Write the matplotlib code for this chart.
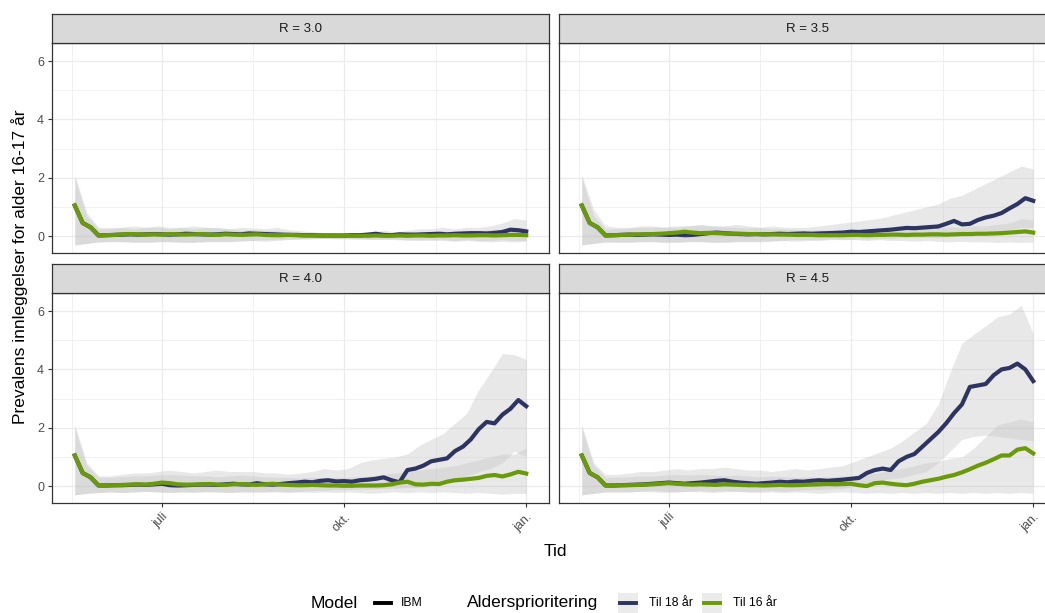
import matplotlib
matplotlib.use('Agg')
import matplotlib.pyplot as plt
import pandas as pd
from matplotlib.lines import Line2D
from matplotlib.patches import Rectangle

plt.rcParams['font.family'] = ['Liberation Sans', 'DejaVu Sans']

# tidsakser: linjer hver 4. dag, usikkerhetsbånd hver 6. dag
dates = pd.date_range('2021-05-18', '2022-01-01', freq='4D')
band_dates = pd.date_range('2021-05-18', '2022-01-01', freq='6D')

panel_titles = ['R = 3.0', 'R = 3.5', 'R = 4.0', 'R = 4.5']
series_labels = ['Til 18 år', 'Til 16 år']
x_tick_dates = ['2021-07-01 00:00', '2021-10-01 00:00', '2022-01-01 00:00']
x_tick_labels = ['juli', 'okt.', 'jan.']
x_minor_dates = ['2021-05-16 12:00', '2021-08-16 00:00', '2021-11-16 12:00']
y_ticks = [0, 2, 4, 6]

# --- R = 3.0 ---
til18_r30 = [1.05, 0.45, 0.30, 0.02, 0.03, 0.04, 0.05, 0.06, 0.05, 0.06,
             0.07, 0.06, 0.05, 0.06, 0.08, 0.07, 0.06, 0.05, 0.06, 0.08,
             0.07, 0.06, 0.09, 0.08, 0.07, 0.06, 0.05, 0.04, 0.04, 0.03,
             0.03, 0.02, 0.02, 0.02, 0.02, 0.03, 0.03, 0.05, 0.08, 0.04,
             0.03, 0.06, 0.05, 0.05, 0.06, 0.07, 0.08, 0.06, 0.08, 0.09,
             0.10, 0.10, 0.09, 0.11, 0.14, 0.22, 0.20, 0.16]
til16_r30 = [1.05, 0.45, 0.30, 0.02, 0.03, 0.04, 0.06, 0.07, 0.06, 0.05,
             0.06, 0.05, 0.07, 0.06, 0.05, 0.06, 0.07, 0.05, 0.04, 0.06,
             0.05, 0.04, 0.05, 0.06, 0.04, 0.03, 0.03, 0.04, 0.03, 0.02,
             0.02, 0.02, 0.01, 0.01, 0.01, 0.01, 0.01, 0.01, 0.02, 0.01,
             0.01, 0.02, 0.01, 0.02, 0.02, 0.01, 0.02, 0.02, 0.03, 0.02,
             0.02, 0.03, 0.03, 0.02, 0.03, 0.04, 0.04, 0.03]
til18_hi_r30 = [2.10, 0.80, 0.30, 0.30, 0.30, 0.35, 0.30, 0.35, 0.30, 0.30,
                0.35, 0.30, 0.30, 0.25, 0.30, 0.28, 0.25, 0.30, 0.22, 0.18,
                0.15, 0.12, 0.12, 0.10, 0.12, 0.15, 0.20, 0.15, 0.20, 0.25,
                0.25, 0.30, 0.25, 0.30, 0.30, 0.35, 0.45, 0.60, 0.55]
til18_lo_r30 = [-0.30, -0.25, -0.20, -0.20, -0.18, -0.20, -0.22, -0.20, -0.18, -0.20,
                -0.22, -0.20, -0.18, -0.20, -0.18, -0.15, -0.18, -0.15, -0.12, -0.10,
                -0.10, -0.08, -0.08, -0.10, -0.10, -0.12, -0.10, -0.12, -0.15, -0.12,
                -0.15, -0.12, -0.15, -0.12, -0.15, -0.15, -0.12, -0.15, -0.15]
til16_hi_r30 = [2.00, 0.70, 0.25, 0.25, 0.30, 0.25, 0.30, 0.30, 0.25, 0.30,
                0.25, 0.30, 0.28, 0.25, 0.20, 0.22, 0.20, 0.18, 0.15, 0.12,
                0.10, 0.10, 0.08, 0.10, 0.10, 0.12, 0.10, 0.12, 0.15, 0.12,
                0.15, 0.18, 0.15, 0.20, 0.20, 0.22, 0.25, 0.30, 0.25]
til16_lo_r30 = [-0.30, -0.25, -0.20, -0.18, -0.20, -0.22, -0.20, -0.18, -0.20, -0.22,
                -0.20, -0.18, -0.20, -0.18, -0.15, -0.15, -0.12, -0.12, -0.10, -0.10,
                -0.08, -0.08, -0.10, -0.08, -0.10, -0.10, -0.12, -0.10, -0.12, -0.15,
                -0.12, -0.15, -0.18, -0.15, -0.18, -0.20, -0.18, -0.20, -0.18]

# --- R = 3.5 ---
til18_r35 = [1.05, 0.45, 0.30, 0.02, 0.03, 0.04, 0.05, 0.04, 0.05, 0.06,
             0.05, 0.04, 0.05, 0.03, 0.04, 0.07, 0.10, 0.12, 0.10, 0.08,
             0.07, 0.06, 0.07, 0.06, 0.07, 0.08, 0.07, 0.08, 0.09, 0.08,
             0.09, 0.10, 0.11, 0.12, 0.15, 0.14, 0.16, 0.18, 0.20, 0.22,
             0.25, 0.28, 0.27, 0.29, 0.31, 0.33, 0.42, 0.52, 0.40, 0.42,
             0.55, 0.64, 0.70, 0.79, 0.95, 1.10, 1.30, 1.21]
til16_r35 = [1.05, 0.45, 0.30, 0.02, 0.03, 0.04, 0.05, 0.06, 0.06, 0.07,
             0.08, 0.10, 0.12, 0.15, 0.12, 0.10, 0.11, 0.10, 0.09, 0.08,
             0.08, 0.07, 0.07, 0.06, 0.06, 0.05, 0.05, 0.04, 0.04, 0.04,
             0.03, 0.03, 0.03, 0.03, 0.04, 0.04, 0.03, 0.04, 0.04, 0.05,
             0.05, 0.04, 0.05, 0.05, 0.06, 0.06, 0.05, 0.06, 0.07, 0.07,
             0.08, 0.08, 0.09, 0.10, 0.12, 0.14, 0.16, 0.12]
til18_hi_r35 = [2.10, 0.90, 0.35, 0.30, 0.30, 0.35, 0.35, 0.30, 0.30, 0.35,
                0.40, 0.35, 0.35, 0.40, 0.35, 0.30, 0.35, 0.30, 0.30, 0.30,
                0.35, 0.40, 0.45, 0.50, 0.55, 0.60, 0.70, 0.80, 0.90, 1.00,
                1.10, 1.30, 1.40, 1.60, 1.80, 2.00, 2.20, 2.40, 2.30]
til18_lo_r35 = [-0.30, -0.25, -0.20, -0.20, -0.22, -0.20, -0.18, -0.20, -0.22, -0.20,
                -0.18, -0.20, -0.22, -0.20, -0.18, -0.20, -0.18, -0.15, -0.18, -0.15,
                -0.15, -0.12, -0.12, -0.10, -0.10, -0.08, -0.08, -0.05, -0.05, -0.05,
                -0.05, -0.02, 0.00, 0.05, 0.10, 0.15, 0.20, 0.30, 0.30]
til16_hi_r35 = [2.00, 0.70, 0.25, 0.25, 0.28, 0.30, 0.30, 0.32, 0.35, 0.35,
                0.38, 0.35, 0.32, 0.30, 0.28, 0.30, 0.25, 0.25, 0.22, 0.20,
                0.22, 0.20, 0.22, 0.20, 0.22, 0.25, 0.25, 0.28, 0.28, 0.30,
                0.30, 0.32, 0.30, 0.35, 0.35, 0.40, 0.45, 0.60, 0.55]
til16_lo_r35 = [-0.30, -0.25, -0.20, -0.22, -0.20, -0.18, -0.20, -0.22, -0.20, -0.18,
                -0.20, -0.22, -0.20, -0.18, -0.20, -0.18, -0.15, -0.15, -0.12, -0.12,
                -0.12, -0.10, -0.12, -0.12, -0.15, -0.12, -0.15, -0.15, -0.18, -0.15,
                -0.18, -0.20, -0.18, -0.20, -0.20, -0.22, -0.20, -0.22, -0.20]

# --- R = 4.0 ---
til18_r40 = [1.05, 0.45, 0.30, 0.02, 0.02, 0.03, 0.03, 0.04, 0.05, 0.04,
             0.06, 0.08, 0.03, 0.02, 0.03, 0.04, 0.05, 0.05, 0.04, 0.06,
             0.08, 0.06, 0.05, 0.10, 0.06, 0.05, 0.07, 0.10, 0.12, 0.15,
             0.13, 0.18, 0.20, 0.16, 0.17, 0.15, 0.20, 0.22, 0.25, 0.30,
             0.20, 0.13, 0.55, 0.60, 0.70, 0.85, 0.90, 0.95, 1.20, 1.35,
             1.60, 1.95, 2.20, 2.15, 2.45, 2.65, 2.95, 2.74]
til16_r40 = [1.05, 0.45, 0.30, 0.02, 0.02, 0.03, 0.04, 0.05, 0.06, 0.05,
             0.08, 0.12, 0.10, 0.06, 0.05, 0.05, 0.06, 0.07, 0.05, 0.04,
             0.06, 0.07, 0.05, 0.04, 0.06, 0.08, 0.05, 0.04, 0.03, 0.03,
             0.04, 0.03, 0.02, 0.02, 0.01, 0.01, 0.02, 0.02, 0.02, 0.03,
             0.06, 0.12, 0.15, 0.06, 0.05, 0.08, 0.07, 0.15, 0.20, 0.22,
             0.25, 0.28, 0.35, 0.38, 0.33, 0.40, 0.49, 0.43]
til18_hi_r40 = [2.10, 0.80, 0.35, 0.35, 0.40, 0.45, 0.45, 0.50, 0.55, 0.50,
                0.45, 0.50, 0.55, 0.50, 0.50, 0.50, 0.45, 0.45, 0.40, 0.45,
                0.50, 0.60, 0.55, 0.60, 0.80, 0.90, 0.95, 1.00, 1.10, 1.40,
                1.60, 1.80, 2.15, 2.50, 3.30, 3.90, 4.55, 4.50, 4.35]
til18_lo_r40 = [-0.30, -0.25, -0.22, -0.20, -0.22, -0.20, -0.18, -0.20, -0.22, -0.20,
                -0.20, -0.18, -0.20, -0.22, -0.20, -0.18, -0.20, -0.18, -0.20, -0.18,
                -0.15, -0.15, -0.12, -0.12, -0.10, -0.10, -0.08, -0.08, -0.05, -0.05,
                0.00, 0.10, 0.20, 0.35, 0.50, 0.60, 0.80, 1.20, 1.00]
til16_hi_r40 = [2.00, 0.70, 0.30, 0.30, 0.32, 0.35, 0.35, 0.38, 0.40, 0.38,
                0.35, 0.35, 0.32, 0.35, 0.38, 0.35, 0.32, 0.30, 0.30, 0.28,
                0.30, 0.28, 0.30, 0.30, 0.32, 0.35, 0.40, 0.45, 0.50, 0.55,
                0.60, 0.65, 0.70, 0.80, 0.90, 1.00, 1.10, 1.10, 1.30]
til16_lo_r40 = [-0.30, -0.25, -0.22, -0.20, -0.22, -0.20, -0.18, -0.20, -0.22, -0.20,
                -0.22, -0.20, -0.20, -0.22, -0.20, -0.22, -0.20, -0.20, -0.22, -0.20,
                -0.22, -0.20, -0.22, -0.20, -0.22, -0.25, -0.22, -0.20, -0.22, -0.20,
                -0.22, -0.20, -0.22, -0.25, -0.22, -0.25, -0.28, -0.25, -0.25]

# --- R = 4.5 ---
til18_r45 = [1.05, 0.45, 0.30, 0.02, 0.02, 0.03, 0.04, 0.05, 0.06, 0.08,
             0.10, 0.12, 0.10, 0.08, 0.10, 0.12, 0.15, 0.18, 0.20, 0.15,
             0.12, 0.10, 0.08, 0.10, 0.12, 0.15, 0.13, 0.16, 0.15, 0.18,
             0.20, 0.18, 0.20, 0.22, 0.25, 0.28, 0.45, 0.55, 0.60, 0.55,
             0.85, 1.00, 1.10, 1.35, 1.60, 1.85, 2.15, 2.50, 2.80, 3.40,
             3.45, 3.50, 3.80, 4.00, 4.05, 4.20, 4.00, 3.60]
til16_r45 = [1.05, 0.45, 0.30, 0.02, 0.02, 0.03, 0.03, 0.04, 0.05, 0.06,
             0.08, 0.10, 0.08, 0.06, 0.05, 0.06, 0.05, 0.04, 0.06, 0.05,
             0.04, 0.03, 0.03, 0.02, 0.03, 0.04, 0.03, 0.03, 0.04, 0.05,
             0.06, 0.07, 0.06, 0.07, 0.08, 0.03, 0.00, 0.10, 0.12, 0.08,
             0.05, 0.03, 0.08, 0.15, 0.20, 0.25, 0.32, 0.38, 0.47, 0.58,
             0.70, 0.80, 0.92, 1.05, 1.05, 1.25, 1.30, 1.12]
til18_hi_r45 = [2.10, 0.80, 0.40, 0.40, 0.45, 0.50, 0.50, 0.55, 0.60, 0.55,
                0.60, 0.60, 0.65, 0.60, 0.55, 0.55, 0.50, 0.55, 0.60, 0.55,
                0.60, 0.65, 0.70, 0.85, 1.00, 1.15, 1.30, 1.55, 1.85, 2.15,
                2.80, 3.90, 4.90, 5.20, 5.50, 5.80, 5.90, 6.20, 5.20]
til18_lo_r45 = [-0.30, -0.25, -0.20, -0.18, -0.20, -0.18, -0.15, -0.18, -0.20, -0.18,
                -0.15, -0.18, -0.15, -0.18, -0.20, -0.18, -0.15, -0.18, -0.15, -0.12,
                -0.12, -0.10, -0.08, 0.00, 0.10, 0.20, 0.25, 0.30, 0.40, 0.50,
                0.80, 1.20, 1.60, 1.70, 1.75, 1.70, 1.65, 1.60, 1.55]
til16_hi_r45 = [2.00, 0.70, 0.30, 0.30, 0.32, 0.35, 0.35, 0.38, 0.40, 0.38,
                0.40, 0.38, 0.35, 0.38, 0.35, 0.32, 0.35, 0.32, 0.30, 0.32,
                0.30, 0.32, 0.35, 0.35, 0.40, 0.45, 0.55, 0.60, 0.70, 0.80,
                0.85, 0.95, 1.00, 1.30, 1.70, 2.10, 2.20, 2.30, 2.20]
til16_lo_r45 = [-0.30, -0.25, -0.20, -0.22, -0.20, -0.18, -0.20, -0.22, -0.20, -0.18,
                -0.20, -0.22, -0.20, -0.18, -0.20, -0.22, -0.20, -0.22, -0.20, -0.22,
                -0.25, -0.22, -0.20, -0.22, -0.25, -0.22, -0.25, -0.22, -0.25, -0.22,
                -0.25, -0.22, -0.25, -0.22, -0.25, -0.22, -0.25, -0.22, -0.25]

col18 = '#2E3461'
col16 = '#6A9A0A'
band_col = '#c4c4c4'

panels = [
    (til18_r30, til16_r30, til18_lo_r30, til18_hi_r30, til16_lo_r30, til16_hi_r30),
    (til18_r35, til16_r35, til18_lo_r35, til18_hi_r35, til16_lo_r35, til16_hi_r35),
    (til18_r40, til16_r40, til18_lo_r40, til18_hi_r40, til16_lo_r40, til16_hi_r40),
    (til18_r45, til16_r45, til18_lo_r45, til18_hi_r45, til16_lo_r45, til16_hi_r45),
]

W, H = 1045, 613
fig = plt.figure(figsize=(W / 100, H / 100), dpi=100)


def box(x0, y0, x1, y1):
    # pikselkoordinater -> figurbrøk
    return [x0 / W, 1 - y1 / H, (x1 - x0) / W, (y1 - y0) / H]


cols = [(52, 549), (559, 1056)]
rows = [((14, 43), (43, 253)), ((264, 293), (293, 503))]
xlim = (pd.Timestamp('2021-05-06 12:00'), pd.Timestamp('2022-01-12 12:00'))

for i, (title, data) in enumerate(zip(panel_titles, panels)):
    r, c = divmod(i, 2)
    x0, x1 = cols[c]
    (s0, s1), (p0, p1) = rows[r]
    ax = fig.add_axes(box(x0, p0, x1, p1))
    st = fig.add_axes(box(x0, s0, x1, s1))

    l18, l16, lo18, hi18, lo16, hi16 = data
    ax.fill_between(band_dates, lo18, hi18, color=band_col, alpha=0.39, lw=0)
    ax.fill_between(band_dates, lo16, hi16, color=band_col, alpha=0.39, lw=0)
    ax.plot(dates, l18, color=col18, lw=3.0, solid_joinstyle='round')
    ax.plot(dates, l16, color=col16, lw=3.0, solid_joinstyle='round')

    ax.set_xlim(xlim)
    ax.set_ylim(-0.58, 6.62)
    ax.set_xticks(pd.to_datetime(x_tick_dates))
    ax.set_xticks(pd.to_datetime(x_minor_dates), minor=True)
    ax.set_yticks(y_ticks)
    ax.set_yticks([1, 3, 5], minor=True)
    ax.set_axisbelow(True)
    ax.grid(which='major', color='#ebebeb', lw=0.9)
    ax.grid(which='minor', color='#ebebeb', lw=0.5)
    ax.tick_params(which='minor', length=0)
    ax.tick_params(which='major', length=3.2, width=0.8, color='#333333',
                   labelcolor='#4d4d4d', labelsize=9, pad=2.5)
    for sp in ax.spines.values():
        sp.set_color('#333333')
        sp.set_linewidth(0.9)

    if r == 1:
        ax.set_xticklabels(x_tick_labels, rotation=45, ha='right', va='top',
                           rotation_mode='anchor')
    else:
        ax.tick_params(axis='x', which='major', length=0, labelbottom=False)
    if c == 0:
        ax.set_yticklabels([str(v) for v in y_ticks])
    else:
        ax.tick_params(axis='y', which='major', length=0, labelleft=False)

    st.set_facecolor('#d9d9d9')
    st.set_xticks([])
    st.set_yticks([])
    for sp in st.spines.values():
        sp.set_color('#333333')
        sp.set_linewidth(0.9)
    st.text(0.5, 0.5, title, ha='center', va='center', fontsize=9.5,
            color='#1a1a1a', transform=st.transAxes)

# aksetitler
fig.text(20 / W, 1 - 267 / H, 'Prevalens innleggelser for alder 16-17 år',
         rotation=90, ha='center', va='center', fontsize=12.5)
fig.text(555 / W, 1 - 551 / H, 'Tid', ha='center', va='center', fontsize=12.5)

# forklaring nederst
ly = 1 - 603 / H
fig.text(311 / W, ly, 'Model', ha='left', va='center', fontsize=12.5)
fig.add_artist(Line2D([375 / W, 391 / W], [ly, ly], color='black', lw=2.8))
fig.text(401 / W, ly, 'IBM', ha='left', va='center', fontsize=8.8)
fig.text(467 / W, ly, 'Aldersprioritering', ha='left', va='center', fontsize=12.5)
for (kx, lx), lab, colr in zip([(618, 649), (702, 733)], series_labels, [col18, col16]):
    fig.add_artist(Rectangle((kx / W, 1 - 613 / H), 20 / W, 20 / H,
                             facecolor='#ebebeb', edgecolor='none'))
    fig.add_artist(Line2D([(kx + 2) / W, (kx + 18) / W], [ly, ly], color=colr, lw=2.8))
    fig.text(lx / W, ly, lab, ha='left', va='center', fontsize=8.8)

fig.savefig('out.png', dpi=100)
